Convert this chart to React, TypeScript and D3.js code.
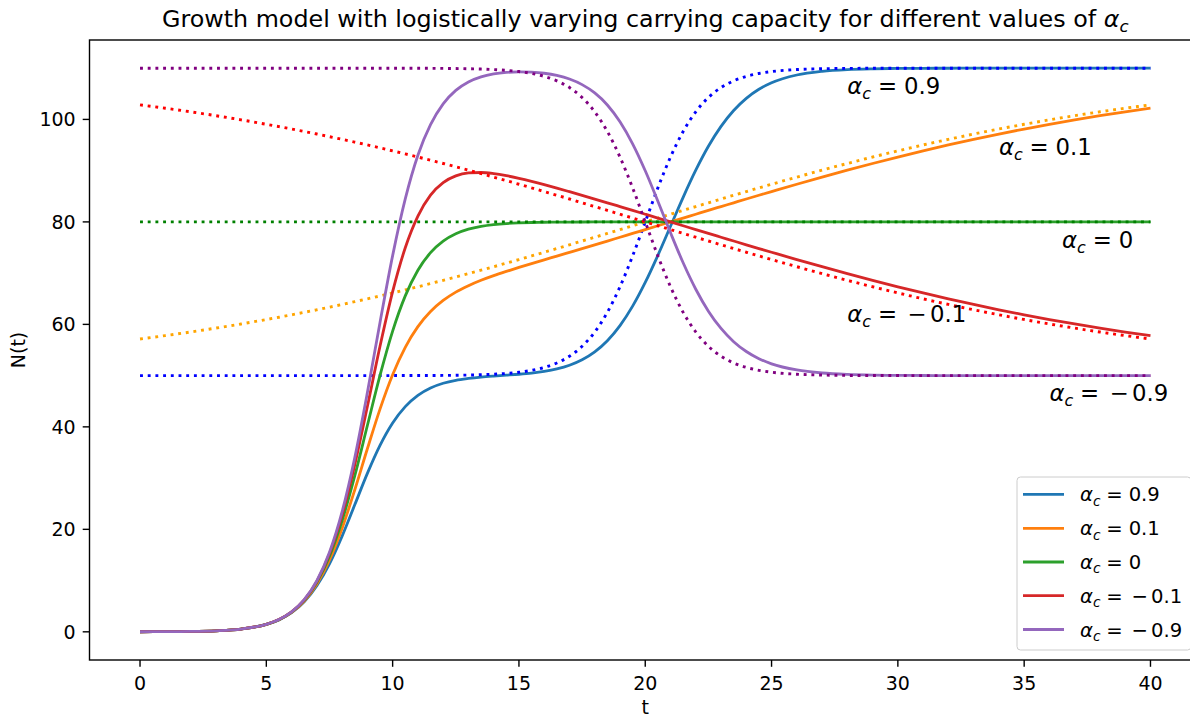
import React from 'react';
import * as d3 from 'd3';

// time grid, finer where the curves bend
const tGrid = [0, 1, 2, 3, 4, 5, 5.5, 6, 6.5, 7, 7.5, 8, 8.5, 9, 9.5, 10, 10.5, 11, 11.5, 12, 12.5, 13, 13.5, 14, 14.5, 15,
  15.5, 16, 16.5, 17, 17.5, 18, 18.5, 19, 19.5, 20, 20.5, 21, 21.5, 22, 22.5, 23, 23.5, 24, 24.5, 25,
  26, 27, 28, 29, 30, 31, 32, 33, 34, 35, 36, 37, 38, 39, 40];
const tFlat = [0, 40];

// N(t), solid curves
const nA09 = [0.01, 0.03, 0.07, 0.20, 0.54, 1.44, 2.33, 3.73, 5.87, 9.00, 13.28, 18.68, 24.78, 30.92, 36.38, 40.75,
  43.95, 46.15, 47.59, 48.51, 49.09, 49.45, 49.72, 49.92, 50.09, 50.27, 50.50, 50.82, 51.30, 52.02, 53.09, 54.63,
  56.81, 59.76, 63.56, 68.19, 73.48, 79.14, 84.80, 90.09, 94.76, 98.65, 101.75, 104.12, 105.88, 107.15,
  108.67, 109.39, 109.73, 109.88, 109.95, 109.98, 109.99, 110, 110, 110, 110, 110, 110, 110, 110];
const nA01 = [0.01, 0.03, 0.07, 0.20, 0.54, 1.45, 2.35, 3.78, 6.00, 9.32, 14.02, 20.22, 27.68, 35.72, 43.47, 50.18,
  55.53, 59.56, 62.51, 64.67, 66.29, 67.55, 68.60, 69.51, 70.33, 71.11, 71.86, 72.59, 73.33, 74.06, 74.79, 75.52,
  76.26, 77.01, 77.75, 78.50, 79.25, 80.00, 80.75, 81.50, 82.25, 82.99, 83.73, 84.47, 85.20, 85.92,
  87.35, 88.74, 90.09, 91.40, 92.66, 93.86, 95.02, 96.11, 97.15, 98.13, 99.05, 99.92, 100.73, 101.49, 102.19];
const nA0 = [0.01, 0.03, 0.07, 0.20, 0.54, 1.46, 2.37, 3.84, 6.14, 9.65, 14.75, 21.72, 30.44, 40.26, 50.04, 58.69,
  65.56, 70.57, 74.00, 76.25, 77.68, 78.58, 79.13, 79.47, 79.68, 79.80, 79.88, 79.93, 79.95, 79.97, 79.98, 79.99,
  80, 80, 80, 80, 80, 80, 80, 80, 80, 80, 80, 80, 80, 80,
  80, 80, 80, 80, 80, 80, 80, 80, 80, 80, 80, 80, 80, 80, 80];
const nAm01 = [0.01, 0.03, 0.07, 0.20, 0.54, 1.46, 2.39, 3.88, 6.23, 9.86, 15.26, 22.81, 32.58, 43.96, 55.72, 66.38,
  74.95, 81.14, 85.22, 87.67, 88.98, 89.55, 89.64, 89.42, 89.02, 88.50, 87.91, 87.27, 86.59, 85.89, 85.18, 84.46,
  83.73, 82.99, 82.25, 81.50, 80.75, 80.00, 79.25, 78.50, 77.75, 77.01, 76.27, 75.53, 74.80, 74.08,
  72.65, 71.26, 69.91, 68.60, 67.34, 66.14, 64.98, 63.89, 62.85, 61.87, 60.95, 60.08, 59.27, 58.51, 57.81];
const nAm09 = [0.01, 0.03, 0.07, 0.20, 0.54, 1.46, 2.39, 3.89, 6.27, 9.97, 15.53, 23.46, 33.98, 46.68, 60.37, 73.42,
  84.50, 93.02, 98.98, 103.04, 105.67, 107.32, 108.31, 108.88, 109.18, 109.29, 109.23, 109.01, 108.58, 107.88, 106.79, 105.17,
  102.82, 99.54, 95.24, 89.98, 84.03, 77.88, 72.02, 66.86, 62.58, 59.20, 56.62, 54.71, 53.31, 52.30,
  51.10, 50.51, 50.23, 50.10, 50.05, 50.02, 50.01, 50, 50, 50, 50, 50, 50, 50, 50];

// carrying capacity K(t), dotted curves
const kA09 = [50, 50, 50, 50, 50, 50, 50, 50, 50, 50, 50, 50, 50, 50, 50, 50.01,
  50.01, 50.02, 50.03, 50.04, 50.07, 50.11, 50.17, 50.27, 50.42, 50.66, 51.03, 51.60, 52.47, 53.78, 55.72, 58.51,
  62.35, 67.34, 73.36, 80.00, 86.64, 92.66, 97.65, 101.49, 104.28, 106.22, 107.53, 108.40, 108.97, 109.34,
  109.73, 109.89, 109.96, 109.98, 109.99, 110, 110, 110, 110, 110, 110, 110, 110, 110, 110];
const kA01 = [57.15, 57.81, 58.51, 59.27, 60.08, 60.95, 61.40, 61.87, 62.35, 62.85, 63.36, 63.89, 64.43, 64.98, 65.55, 66.14,
  66.73, 67.34, 67.97, 68.60, 69.25, 69.91, 70.58, 71.26, 71.95, 72.65, 73.36, 74.08, 74.80, 75.53, 76.27, 77.01,
  77.75, 78.50, 79.25, 80.00, 80.75, 81.50, 82.25, 82.99, 83.73, 84.47, 85.20, 85.92, 86.64, 87.35,
  88.74, 90.09, 91.40, 92.66, 93.86, 95.02, 96.11, 97.15, 98.13, 99.05, 99.92, 100.73, 101.49, 102.19, 102.85];
const kA0 = [80, 80];
const kAm01 = [102.85, 102.19, 101.49, 100.73, 99.92, 99.05, 98.60, 98.13, 97.65, 97.15, 96.64, 96.11, 95.57, 95.02, 94.45, 93.86,
  93.27, 92.66, 92.03, 91.40, 90.75, 90.09, 89.42, 88.74, 88.05, 87.35, 86.64, 85.92, 85.20, 84.47, 83.73, 82.99,
  82.25, 81.50, 80.75, 80.00, 79.25, 78.50, 77.75, 77.01, 76.27, 75.53, 74.80, 74.08, 73.36, 72.65,
  71.26, 69.91, 68.60, 67.34, 66.14, 64.98, 63.89, 62.85, 61.87, 60.95, 60.08, 59.27, 58.51, 57.81, 57.15];
const kAm09 = [110, 110, 110, 110, 110, 110, 110, 110, 110, 110, 110, 110, 110, 110, 110, 109.99,
  109.99, 109.98, 109.97, 109.96, 109.93, 109.89, 109.83, 109.73, 109.58, 109.34, 108.97, 108.40, 107.53, 106.22, 104.28, 101.49,
  97.65, 92.66, 86.64, 80.00, 73.36, 67.34, 62.35, 58.51, 55.72, 53.78, 52.47, 51.60, 51.03, 50.66,
  50.27, 50.11, 50.04, 50.02, 50.01, 50, 50, 50, 50, 50, 50, 50, 50, 50, 50];

const alphaValues = ['0.9', '0.1', '0', '−0.1', '−0.9'];
const solidColors = ['#1f77b4', '#ff7f0e', '#2ca02c', '#d62728', '#9467bd'];
const dottedColors = ['blue', 'orange', 'green', 'red', 'purple'];
// where each text label sits, in data units
const labelT = [28, 34, 36.5, 28, 36];
const labelN = [105, 93, 75, 60.5, 45];

const xTicks = [0, 5, 10, 15, 20, 25, 30, 35, 40];
const yTicks = [0, 20, 40, 60, 80, 100];

const W = 1190;
const H = 719;
const box = { left: 89.5, right: 1201, top: 40, bottom: 660 };
const FONT = 'DejaVu Sans, sans-serif';
const TICK = 6.8;
const TICK_FONT = 19;

const AlphaText = ({ x, y, size, value }) => {
  const neg = value.startsWith('−');
  const num = neg ? value.slice(1) : value;
  return (
    <text x={x} y={y} fontSize={size} fontFamily={FONT} fill="#000">
      <tspan fontStyle="italic">α</tspan>
      <tspan fontStyle="italic" fontSize={size * 0.7} dy={size * 0.22}>c</tspan>
      <tspan dy={-size * 0.22} dx={size * 0.3}>=</tspan>
      {neg && <tspan dx={size * 0.45}>−</tspan>}
      <tspan dx={neg ? size * 0.15 : size * 0.3}>{num}</tspan>
    </text>
  );
};

export default function App() {
  const x = d3.scaleLinear().domain([-2, 42]).range([box.left, box.right]);
  const y = d3.scaleLinear().domain([-5.5, 115.5]).range([box.bottom, box.top]);

  const line = d3.line().x(d => x(d[0])).y(d => y(d[1])).curve(d3.curveMonotoneX);

  const solid = [nA09, nA01, nA0, nAm01, nAm09];
  const dotted = [kA09, kA01, kA0, kAm01, kAm09];
  const dottedT = [tGrid, tGrid, tFlat, tGrid, tGrid];

  const legendRows = [494.3, 528.3, 562, 595.7, 629.5];

  return (
    <svg width={W} height={H} style={{ position: 'absolute', left: 0, top: 0 }} fontFamily={FONT}>
      <rect width={W} height={H} fill="#fff" />
      <text x={(box.left + box.right) / 2} y={26.5} textAnchor="middle" fontSize={23.8}>
        Growth model with logistically varying carrying capacity for different values of{' '}
        <tspan fontStyle="italic">α</tspan>
        <tspan fontStyle="italic" fontSize={16.6} dy={5}>c</tspan>
      </text>

      <g>
        {solid.map((s, i) => (
          <g key={i}>
            <path d={line(tGrid.map((t, j) => [t, s[j]]))} fill="none" stroke={solidColors[i]} strokeWidth={2.8} />
            <path d={line(dottedT[i].map((t, j) => [t, dotted[i][j]]))} fill="none" stroke={dottedColors[i]}
              strokeWidth={2.9} strokeDasharray="2.9 4.8" />
          </g>
        ))}
      </g>

      {alphaValues.map((v, i) => (
        <AlphaText key={i} x={x(labelT[i])} y={y(labelN[i])} size={22.8} value={v} />
      ))}

      {/* frame */}
      <rect x={box.left} y={box.top} width={box.right - box.left} height={box.bottom - box.top}
        fill="none" stroke="#000" strokeWidth={1.4} />

      {xTicks.map(t => (
        <g key={t}>
          <line x1={x(t)} x2={x(t)} y1={box.bottom} y2={box.bottom + TICK} stroke="#000" strokeWidth={1.4} />
          <text x={x(t)} y={689.5} textAnchor="middle" fontSize={TICK_FONT}>{t}</text>
        </g>
      ))}
      {yTicks.map(v => (
        <g key={v}>
          <line x1={box.left - TICK} x2={box.left} y1={y(v)} y2={y(v)} stroke="#000" strokeWidth={1.4} />
          <text x={box.left - TICK - 7} y={y(v) + 6.9} textAnchor="end" fontSize={TICK_FONT}>{v}</text>
        </g>
      ))}
      <text x={(box.left + box.right) / 2} y={714} textAnchor="middle" fontSize={TICK_FONT}>t</text>
      <text transform={`translate(25, ${(box.top + box.bottom) / 2}) rotate(-90)`} textAnchor="middle" fontSize={TICK_FONT}>N(t)</text>

      {/* legend */}
      <rect x={1017} y={477} width={174} height={173} rx={3.5} fill="#fff" fillOpacity={0.8} stroke="#cccccc" strokeWidth={1} />
      {alphaValues.map((v, i) => (
        <g key={v}>
          <line x1={1023} x2={1064} y1={legendRows[i]} y2={legendRows[i]} stroke={solidColors[i]} strokeWidth={2.8} />
          <AlphaText x={1080} y={legendRows[i] + 7} size={19.6} value={v} />
        </g>
      ))}
    </svg>
  );
}
